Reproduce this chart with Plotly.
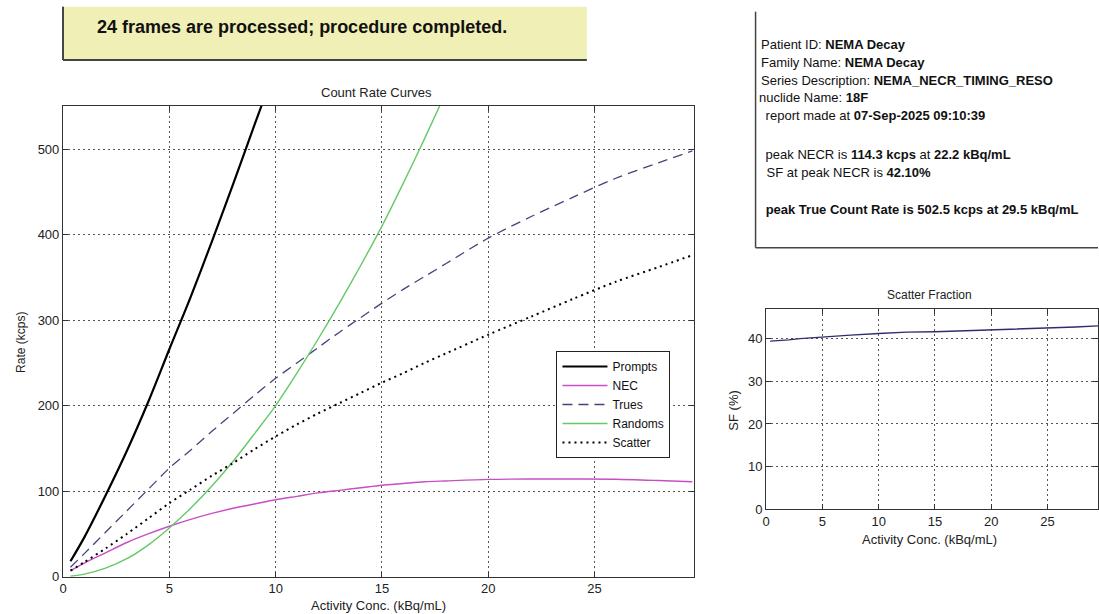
import plotly.graph_objects as go

W = 1099
H = 622        # figure height; the photographed page is squeezed into 614 px
REF_H = 614    # reference picture height used for positioning

# ---------------- data ----------------
activity = [0.35, 1, 2, 3, 4, 5, 6, 7, 8, 9, 10, 11, 12, 13, 14, 15, 16, 17, 18,
            20, 22, 24, 26, 28, 29.6]
trues = [11, 27, 52, 77, 102, 127, 148, 170, 191, 212, 232, 250, 268, 286, 303,
         320, 336, 351, 366, 396, 421, 444, 466, 484, 498]
scatter = [7, 17, 33, 50, 68, 86, 102, 118, 133, 149, 164, 178, 191, 203, 215,
           227, 238, 250, 261, 283, 304, 325, 345, 362, 376]
nec = [7, 16, 28, 40, 50, 59, 67, 74, 80, 85, 90, 94, 98, 101, 104, 107, 109,
       111, 112, 113.8, 114.3, 114.2, 114.0, 112.5, 111]

prompts_x = [0.35, 1, 2, 3, 4, 5, 6, 7, 8, 9, 10]
prompts = [18, 46, 95, 147, 204, 266, 327, 392, 459, 528, 596]

randoms_x = [0.35, 1, 2, 3, 4, 5, 6, 7, 8, 9, 10, 11, 12, 13, 14, 15, 16, 17, 18]
randoms = [0.5, 3, 10, 21, 37, 57, 80, 106, 135, 167, 200, 238, 278, 320, 364,
           410, 460, 512, 566]

sf_x = [0.35, 1, 2, 3, 5, 7.5, 10, 12.5, 15, 17.5, 20, 22.5, 25, 27.5, 29.6]
sf_y = [39.4, 39.5, 39.7, 40.0, 40.4, 40.8, 41.2, 41.5, 41.6, 41.8, 42.0, 42.2,
        42.4, 42.7, 43.0]

main_xticks = [0, 5, 10, 15, 20, 25]
main_yticks = [0, 100, 200, 300, 400, 500]
sf_xticks = [0, 5, 10, 15, 20, 25]
sf_yticks = [0, 10, 20, 30, 40]

banner_text = "<b>24 frames are processed; procedure completed.</b>"
info_lines = [
    "Patient ID: <b>NEMA Decay</b>",
    "Family Name: <b>NEMA Decay</b>",
    "Series Description: <b>NEMA_NECR_TIMING_RESO</b>",
    "nuclide Name: <b>18F</b>",
    " report made at <b>07-Sep-2025 09:10:39</b>",
    " peak NECR is <b>114.3 kcps</b> at <b>22.2 kBq/mL</b>",
    " SF at peak NECR is <b>42.10%</b>",
    " <b>peak True Count Rate is 502.5 kcps at 29.5 kBq/mL</b>",
]
info_y = [44, 62, 80, 98, 116, 154, 172, 210]
info_x = [758, 758, 758, 756, 759, 759, 760, 759]

FONT = "Liberation Sans, Arial, Helvetica, sans-serif"


def px(x):
    return x / W


def py(y):
    return 1 - y / REF_H


fig = go.Figure()

smooth = dict(shape="spline", smoothing=0.8)
fig.add_trace(go.Scatter(x=prompts_x, y=prompts, name="Prompts", mode="lines",
                         line=dict(color="black", width=2.2, **smooth), xaxis="x", yaxis="y"))
fig.add_trace(go.Scatter(x=activity, y=nec, name="NEC", mode="lines",
                         line=dict(color="#c64fc6", width=1.4, **smooth), xaxis="x", yaxis="y"))
fig.add_trace(go.Scatter(x=activity, y=trues, name="Trues", mode="lines",
                         line=dict(color="#45457a", width=1.3, dash="10px,6px", **smooth),
                         xaxis="x", yaxis="y"))
fig.add_trace(go.Scatter(x=randoms_x, y=randoms, name="Randoms", mode="lines",
                         line=dict(color="#66c866", width=1.4, **smooth), xaxis="x", yaxis="y"))
fig.add_trace(go.Scatter(x=activity, y=scatter, name="Scatter", mode="lines",
                         line=dict(color="black", width=2, dash="2px,4px", **smooth),
                         xaxis="x", yaxis="y"))
fig.add_trace(go.Scatter(x=sf_x, y=sf_y, name="SF", mode="lines", showlegend=False,
                         line=dict(color="#2e2e6e", width=1.4), xaxis="x2", yaxis="y2"))

axis_common = dict(
    showline=True, linecolor="#333", linewidth=1.2, mirror="ticks",
    ticks="inside", ticklen=5, tickcolor="#333", tickwidth=1,
    showgrid=True, gridcolor="#555", gridwidth=1, griddash="2px,3px",
    zeroline=False, tickfont=dict(family=FONT, size=13, color="#222"),
)

fig.update_layout(
    width=W, height=H, autosize=False,
    margin=dict(l=0, r=0, t=0, b=0),
    paper_bgcolor="white", plot_bgcolor="white",
    font=dict(family=FONT, size=12, color="#222"),
    xaxis=dict(domain=[px(59.3), px(693)], range=[0, 29.67], tickvals=main_xticks,
               anchor="y", **axis_common),
    yaxis=dict(domain=[py(576.7), py(106)], range=[0, 550.5], tickvals=main_yticks,
               anchor="x", **axis_common),
    xaxis2=dict(domain=[px(765.7), 1.0], range=[0, 29.5], tickvals=sf_xticks,
                anchor="y2", **axis_common),
    yaxis2=dict(domain=[py(509.3), py(308.7)], range=[0, 47], tickvals=sf_yticks,
                anchor="x2", **axis_common),
    legend=dict(x=px(555), y=py(351), xanchor="left", yanchor="top",
                bgcolor="white", bordercolor="#222", borderwidth=1,
                font=dict(family=FONT, size=12, color="#111"),
                tracegroupgap=0, itemwidth=45),
    showlegend=True,
)

shapes = [
    # banner
    dict(type="rect", xref="paper", yref="paper", x0=px(59.3), x1=px(585.5),
         y0=py(60), y1=py(6.7), fillcolor="#f0efb6", line=dict(width=0), layer="below"),
    dict(type="line", xref="paper", yref="paper", x0=px(59.3), x1=px(59.3),
         y0=py(60), y1=py(6.7), line=dict(color="#444", width=2)),
    dict(type="line", xref="paper", yref="paper", x0=px(59.3), x1=px(585.5),
         y0=py(60), y1=py(60), line=dict(color="#444", width=2)),
    # info box
    dict(type="line", xref="paper", yref="paper", x0=px(755), x1=px(755),
         y0=py(247.7), y1=py(11.7), line=dict(color="#444", width=1.5)),
    dict(type="line", xref="paper", yref="paper", x0=px(755), x1=1.0,
         y0=py(247.7), y1=py(247.7), line=dict(color="#444", width=1.5)),
]

annotations = [
    dict(text=banner_text, x=px(91), y=py(27), xref="paper", yref="paper",
         xanchor="left", yanchor="middle", showarrow=False,
         font=dict(family=FONT, size=18, color="#111")),
    dict(text="Count Rate Curves", x=px(374), y=py(92.5), xref="paper", yref="paper",
         xanchor="center", yanchor="middle", showarrow=False,
         font=dict(family=FONT, size=13, color="#222")),
    dict(text="Activity Conc. (kBq/mL)", x=px(376), y=py(605), xref="paper", yref="paper",
         xanchor="center", yanchor="middle", showarrow=False,
         font=dict(family=FONT, size=13, color="#222")),
    dict(text="Rate (kcps)", x=px(17), y=py(342), xref="paper", yref="paper",
         xanchor="center", yanchor="middle", showarrow=False, textangle=-90,
         font=dict(family=FONT, size=12, color="#222")),
    dict(text="Scatter Fraction", x=px(930), y=py(295), xref="paper", yref="paper",
         xanchor="center", yanchor="middle", showarrow=False,
         font=dict(family=FONT, size=12, color="#222")),
    dict(text="Activity Conc. (kBq/mL)", x=px(930), y=py(539), xref="paper", yref="paper",
         xanchor="center", yanchor="middle", showarrow=False,
         font=dict(family=FONT, size=13, color="#222")),
    dict(text="SF (%)", x=px(732), y=py(411), xref="paper", yref="paper",
         xanchor="center", yanchor="middle", showarrow=False, textangle=-90,
         font=dict(family=FONT, size=13, color="#222")),
]
for t, xx, yy in zip(info_lines, info_x, info_y):
    annotations.append(dict(text=t, x=px(xx), y=py(yy), xref="paper", yref="paper",
                            xanchor="left", yanchor="middle", showarrow=False,
                            font=dict(family=FONT, size=13, color="#111")))

fig.update_layout(shapes=shapes, annotations=annotations)

fig.write_html(
    "out.html",
    config={"displayModeBar": False},
    post_script="document.body.style.margin='0';document.body.style.overflow='hidden';",
)
